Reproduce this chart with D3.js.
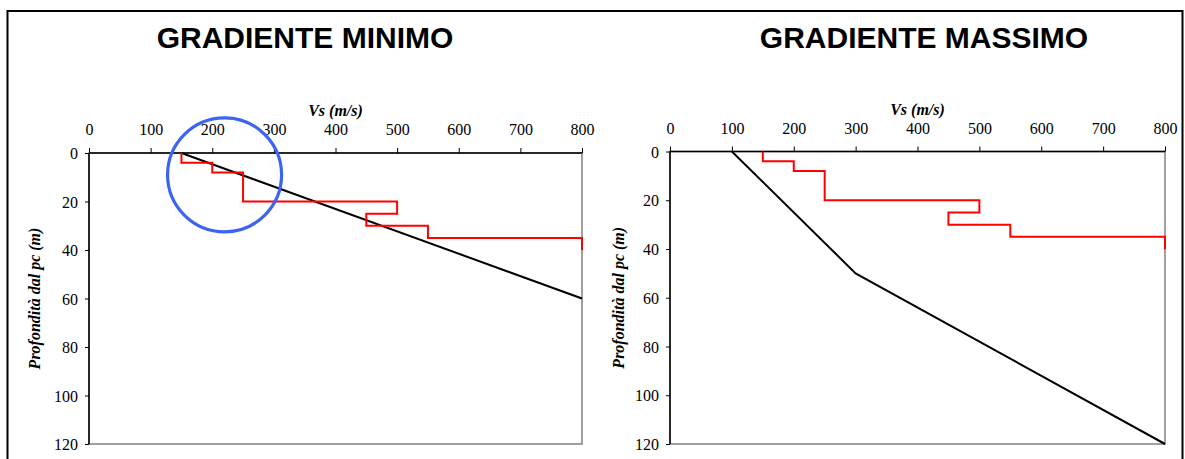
<!DOCTYPE html>
<html>
<head>
<meta charset="utf-8">
<script src="https://cdn.jsdelivr.net/npm/d3@7"></script>
<style>
  body { margin: 0; background: #fff; }
  svg { display: block; }
  .title { font-family: "Liberation Sans", Arial, sans-serif; font-weight: bold; font-size: 30px; }
  .axis-label { font-family: "Liberation Serif", "Times New Roman", serif; font-size: 16px; font-weight: bold; font-style: italic; }
</style>
</head>
<body>
<div id="chart"></div>
<script>
// axis ticks
const vsTicks = [0, 100, 200, 300, 400, 500, 600, 700, 800];
const depthTicks = [0, 20, 40, 60, 80, 100, 120];

// measured Vs profile (step), one value per layer
const layerVs = [150, 200, 250, 500, 450, 550, 800];
const layerTop = [0, 4, 8, 20, 25, 30, 35];
const layerBottom = [4, 8, 20, 25, 30, 35, 40];

// gradient lines
const minGradVs = [150, 800];
const minGradDepth = [0, 60];
const maxGradVs = [100, 300, 800];
const maxGradDepth = [0, 50, 120];

// highlighted area on the first chart (Vs, depth)
const highlight = [220, 9];

const W = 1185, H = 459;
const serif = '"Liberation Serif", "Times New Roman", serif';

const svg = d3.select("#chart").append("svg")
  .attr("width", W)
  .attr("height", H);

svg.append("rect")
  .attr("x", 7.5).attr("y", 11)
  .attr("width", 1175).attr("height", 470)
  .attr("fill", "none")
  .attr("stroke", "#000")
  .attr("stroke-width", 2);

const stepPoints = [];
layerVs.forEach((v, i) => {
  stepPoints.push([v, layerTop[i]]);
  stepPoints.push([v, layerBottom[i]]);
});

function styleTicks(sel) {
  sel.selectAll("text")
    .style("font-family", serif)
    .style("font-size", "16px")
    .style("fill", "#000");
}

function drawPanel(cfg) {
  const { x0, x1, y0, y1, title, titleX, labelX, gradVs, gradDepth } = cfg;

  const x = d3.scaleLinear().domain([0, 800]).range([x0, x1]);
  const y = d3.scaleLinear().domain([0, 120]).range([y0, y1]);
  const g = svg.append("g");

  g.append("text")
    .attr("class", "title")
    .attr("x", titleX).attr("y", 48)
    .attr("text-anchor", "middle")
    .text(title);

  // plot frame
  g.append("rect")
    .attr("x", x0).attr("y", y0)
    .attr("width", x1 - x0).attr("height", y1 - y0)
    .attr("fill", "none")
    .attr("stroke", "#808080")
    .attr("stroke-width", 1.5);

  const xAxis = g.append("g")
    .attr("transform", `translate(0,${y0})`)
    .call(d3.axisTop(x).tickValues(vsTicks).tickSize(5).tickPadding(13).tickFormat(d3.format("d")));
  xAxis.select(".domain").attr("stroke", "#000").attr("stroke-width", 1.5)
    .attr("d", `M${x0},0H${x1}`);
  styleTicks(xAxis);

  const yAxis = g.append("g")
    .attr("transform", `translate(${x0},0)`)
    .call(d3.axisLeft(y).tickValues(depthTicks).tickSize(4).tickPadding(7).tickFormat(d3.format("d")));
  yAxis.select(".domain").attr("stroke", "#000").attr("stroke-width", 1.5)
    .attr("d", `M0,${y0}V${y1}`);
  styleTicks(yAxis);
  yAxis.selectAll("text").attr("dy", "0.35em");

  g.append("text")
    .attr("class", "axis-label")
    .attr("x", x(400)).attr("y", y0 - 37)
    .attr("text-anchor", "middle")
    .text("Vs (m/s)");

  g.append("text")
    .attr("class", "axis-label")
    .attr("transform", `translate(${labelX},${(y0 + y1) / 2}) rotate(-90)`)
    .attr("text-anchor", "middle")
    .text("Profondità dal pc (m)");

  const line = d3.line().x(d => x(d[0])).y(d => y(d[1]));

  g.append("path")
    .datum(gradVs.map((v, i) => [v, gradDepth[i]]))
    .attr("d", line)
    .attr("fill", "none")
    .attr("stroke", "#000")
    .attr("stroke-width", 2);

  g.append("path")
    .datum(stepPoints)
    .attr("d", line)
    .attr("fill", "none")
    .attr("stroke", "#ff0000")
    .attr("stroke-width", 2);

  return { x, y, g };
}

const left = drawPanel({
  x0: 89, x1: 582, y0: 153, y1: 444,
  title: "GRADIENTE MINIMO", titleX: 305, labelX: 40,
  gradVs: minGradVs, gradDepth: minGradDepth
});

drawPanel({
  x0: 670, x1: 1165, y0: 151.5, y1: 444,
  title: "GRADIENTE MASSIMO", titleX: 924, labelX: 624,
  gradVs: maxGradVs, gradDepth: maxGradDepth
});

left.g.append("circle")
  .attr("cx", left.x(highlight[0]))
  .attr("cy", left.y(highlight[1]))
  .attr("r", 57)
  .attr("fill", "none")
  .attr("stroke", "#3c64f0")
  .attr("stroke-width", 3.2);
</script>
</body>
</html>
